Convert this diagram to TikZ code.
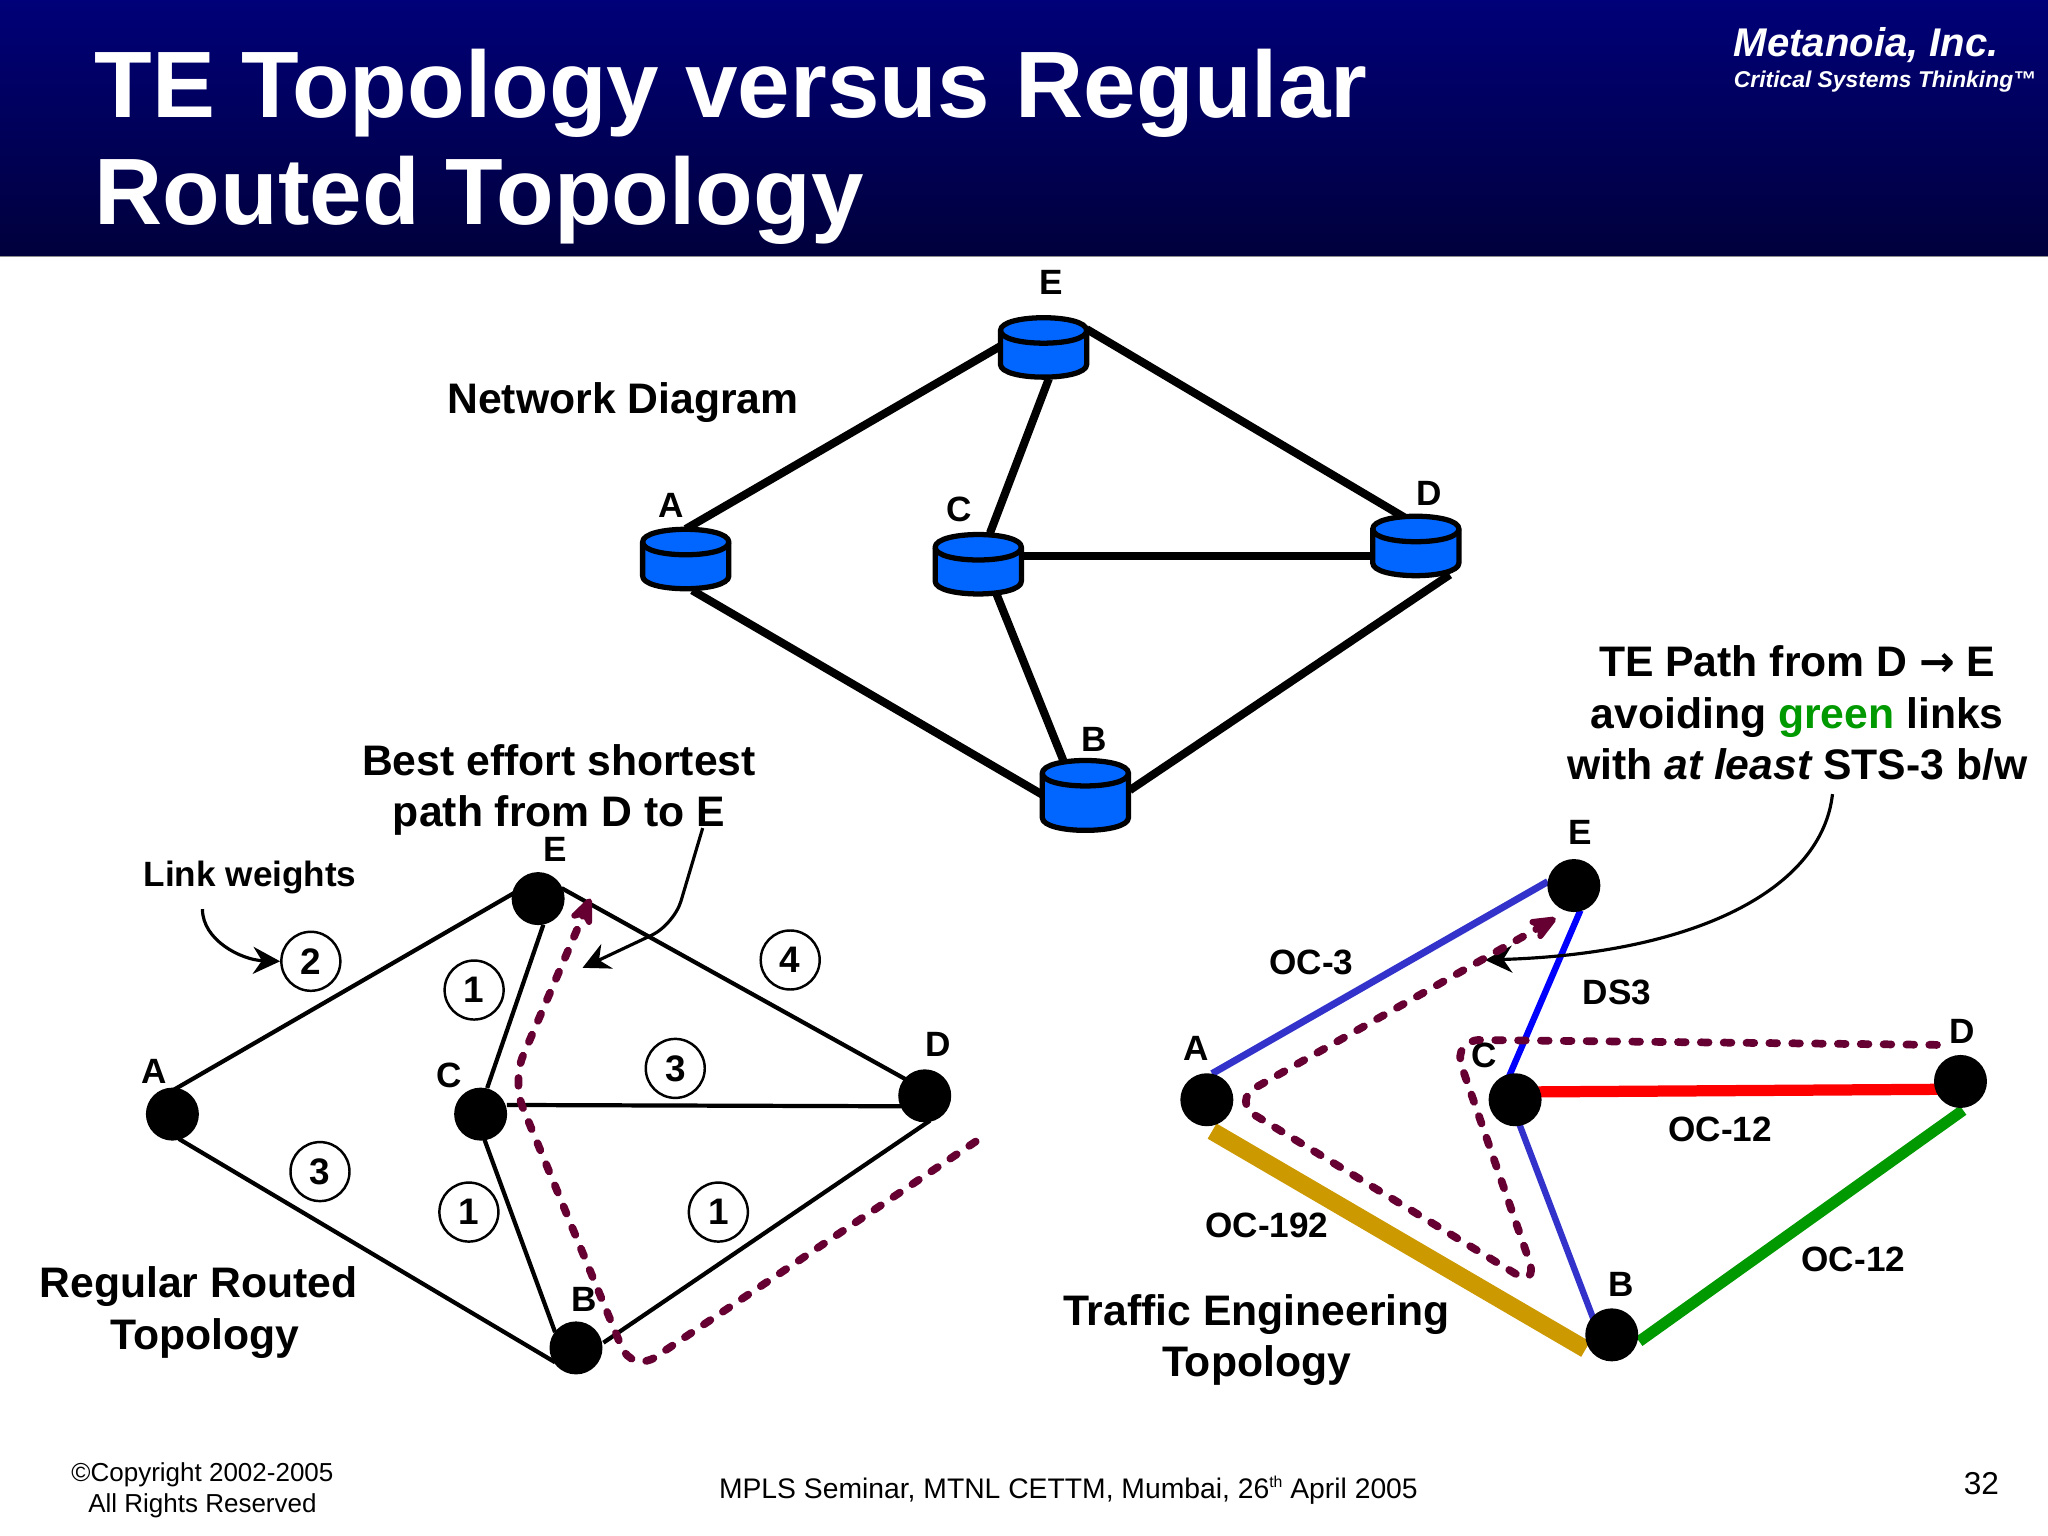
\documentclass[tikz,border=0pt]{standalone}
\usepackage{fontspec}
\setmainfont{Liberation Sans}
\newfontfamily\arrowfont{DejaVu Sans}
\usetikzlibrary{arrows.meta,backgrounds,calc}
\pgfdeclarelayer{base}
\pgfsetlayers{base,background,main}
\definecolor{hdtop}{RGB}{0,0,120}
\definecolor{hdbot}{RGB}{0,0,60}
\definecolor{routerblue}{RGB}{0,102,255}
\definecolor{pathmaroon}{RGB}{102,0,51}
\definecolor{linkindigo}{RGB}{51,51,204}
\definecolor{linkgold}{RGB}{204,153,0}
\definecolor{linkgreen}{RGB}{0,153,0}
\definecolor{teGreen}{RGB}{0,153,0}
\tikzset{
  routerbox/.style={shape=rectangle,minimum width=0.86cm,minimum height=0.62cm,inner sep=0pt,outer sep=0pt},
  routerline/.style={draw=black,line width=1.5pt,line join=round},
  dot/.style={shape=circle,fill=black,minimum size=0.53cm,inner sep=0pt,outer sep=0pt},
  weight/.style={shape=circle,draw=black,line width=0.7pt,minimum size=0.59cm,inner sep=0pt,
    font=\fontsize{10.5}{12}\selectfont\bfseries},
  lab/.style={font=\fontsize{10}{12}\selectfont\bfseries,inner sep=0pt},
  big/.style={font=\fontsize{12.15}{14.6}\selectfont\bfseries,align=center,inner sep=0pt},
  toplink/.style={line width=2.3pt,black},
  reglink/.style={line width=1.2pt,black},
  route/.style={line width=2.2pt,pathmaroon,dash pattern=on 2.2pt off 4.3pt,line cap=round,rounded corners=8pt,
    -{Stealth[length=0.36cm,width=0.3cm,round=false]}},
  callout/.style={line width=0.9pt,black,-{Stealth[length=0.27cm,width=0.27cm]}},
  foot/.style={font=\fontsize{7.4}{9}\selectfont,inner sep=0pt,align=center},
}
\newcommand{\routerdraw}[4]{%
  \node[routerbox] (#1) at (#2,#3) {};
  \begin{scope}[shift={(#2,#3)}]
    \path[routerline,fill=routerblue] (-33,-#4) -- (-33,#4) .. controls (-33,#4+13) and (33,#4+13) .. (33,#4) -- (33,-#4)
      .. controls (33,-#4-13) and (-33,-#4-13) .. (-33,-#4) -- cycle;
    \draw[routerline] (-33,-#4) .. controls (-33,-#4+13) and (33,-#4+13) .. (33,-#4);
  \end{scope}}
\begin{document}
\begin{tikzpicture}[x=0.013061cm,y=-0.013061cm]
\useasboundingbox (0,0) rectangle (1568,1176);
\begin{pgfonlayer}{base}
\fill[white] (0,0) rectangle (1568,1176);
\end{pgfonlayer}
\shade[top color=hdtop,bottom color=hdbot] (0,0) rectangle (1568,196);
\fill[black!45] (0,196) rectangle (1568,197);
\node[anchor=base west,inner sep=0pt,white,font=\fontsize{26.85}{27}\selectfont\bfseries] (t1) at (72,90) {TE Topology versus Regular};
\node[anchor=base west,inner sep=0pt,white,font=\fontsize{26.85}{27}\selectfont\bfseries] (t2) at (72,172) {Routed Topology};
\node[anchor=base west,inner sep=0pt,white,font=\fontsize{11.4}{11}\selectfont\bfseries\itshape] (m1) at (1327,43) {Metanoia, Inc.};
\node[anchor=base west,inner sep=0pt,white,font=\fontsize{6.5}{7}\selectfont\bfseries\itshape] (m2) at (1327,67) {Critical Systems Thinking™};

% network diagram
\routerdraw{E}{799}{266}{13}
\routerdraw{A}{525}{428}{13}
\routerdraw{C}{749}{432}{13}
\routerdraw{D}{1084}{418}{13}
\routerdraw{B}{831}{609}{17}
\begin{pgfonlayer}{background}
\draw[toplink] ([shift={(0,-23)}]A.center) -- ([shift={(-33,-1)}]E.center);
\draw[toplink] ([shift={(33,-14)}]E.center) -- ([shift={(-9,-22)}]D.center);
\draw[toplink] ([shift={(4,24)}]E.center) -- ([shift={(9,-24)}]C.center);
\draw[toplink] ([shift={(33,-6)}]C.center) -- ([shift={(-33,8)}]D.center);
\draw[toplink] ([shift={(14,23)}]C.center) -- ([shift={(-17,-27)}]B.center);
\draw[toplink] ([shift={(5,24)}]A.center) -- ([shift={(-32,0)}]B.center);
\draw[toplink] ([shift={(34,-4)}]B.center) -- ([shift={(26,22)}]D.center);
\end{pgfonlayer}
\node[lab] (lE) at (805,216) {E};
\node[lab] (lA) at (514,387) {A};
\node[lab] (lC) at (734,390) {C};
\node[lab] (lD) at (1094,378) {D};
\node[lab] (lB) at (838,566) {B};
\node[big] (nd) at (477,308) {Network Diagram};

% regular routed topology
\node[dot] (rE) at (412,688) {};
\node[dot] (rA) at (132,853) {};
\node[dot] (rC) at (368,853) {};
\node[dot] (rD) at (708,839) {};
\node[dot] (rB) at (441,1032) {};
\begin{pgfonlayer}{background}
\draw[reglink] ([shift={(0,-18)}]rA.center) -- ([shift={(-12,-8)}]rE.center);
\draw[reglink] ([shift={(18,-8)}]rE.center) -- ([shift={(-8,-9)}]rD.center);
\draw[reglink] ([shift={(4,20)}]rE.center) -- ([shift={(5,-20)}]rC.center);
\draw[reglink] ([shift={(20,-7)}]rC.center) -- ([shift={(-18,8)}]rD.center);
\draw[reglink] ([shift={(2,17)}]rC.center) -- ([shift={(-16,-12)}]rB.center);
\draw[reglink] ([shift={(5,19)}]rA.center) -- ([shift={(-16,11)}]rB.center);
\draw[reglink] ([shift={(21,-4)}]rB.center) -- ([shift={(4,19)}]rD.center);
\end{pgfonlayer}
\node[lab] (rlE) at (425,650) {E};
\node[lab] (rlA) at (118,820) {A};
\node[lab] (rlC) at (344,823) {C};
\node[lab] (rlD) at (718,800) {D};
\node[lab] (rlB) at (447,995) {B};
\node[weight] (w2) at (238,736) {2};
\node[weight] (w1a) at (363,758) {1};
\node[weight] (w4) at (605,735) {4};
\node[weight] (w3a) at (517,818) {3};
\node[weight] (w3b) at (245,897) {3};
\node[weight] (w1b) at (359,928) {1};
\node[weight] (w1c) at (550,928) {1};
\node[lab] (lw) at (191.5,672) {Link weights};
\node[big] (be) at (428,605) {Best effort shortest\\path from D to E};
\node[big] (rr) at (152,1005) {Regular Routed\\\hspace*{0.3em}Topology};
\coordinate (lwS) at (155,696);
\coordinate (beS) at (538,634);
\coordinate (beT) at (446,741);
\draw[callout] (lwS) .. controls (155,720) and (185,735) .. (w2.west);
\draw[callout,rounded corners=7pt] (beS) -- (516,708) -- (beT);
\coordinate (rp0) at (747,874);
\coordinate (rp1) at (452,688);
\draw[route] (rp0) -- (484,1051) -- (392,828) -- (rp1);

% traffic engineering topology
\node[dot] (tE) at (1205,678) {};
\node[dot] (tA) at (924,842) {};
\node[dot] (tC) at (1160,842) {};
\node[dot] (tD) at (1501,828) {};
\node[dot] (tB) at (1234,1022) {};
\begin{pgfonlayer}{background}
\draw[linkindigo,line width=2pt] ([shift={(4,-20)}]tA.center) -- ([shift={(-20,-3)}]tE.center);
\draw[blue,line width=1.8pt] ([shift={(5,19)}]tE.center) -- ([shift={(-5,-17)}]tC.center);
\draw[linkindigo,line width=1.8pt] ([shift={(3,18)}]tC.center) -- ([shift={(-14,-12)}]tB.center);
\draw[red,line width=3.2pt] ([shift={(15,-6)}]tC.center) -- ([shift={(-15,6)}]tD.center);
\draw[linkgreen,line width=3.2pt] ([shift={(2,22)}]tD.center) -- ([shift={(21,5)}]tB.center);
\draw[linkgold,line width=5pt] ([shift={(4,24)}]tA.center) -- ([shift={(-20,11)}]tB.center);
\end{pgfonlayer}
\node[lab] (tlE) at (1210,637) {E};
\node[lab] (tlA) at (916,803) {A};
\node[lab] (tlC) at (1136,808) {C};
\node[lab] (tlD) at (1502,790) {D};
\node[lab] (tlB) at (1241,983) {B};
\node[lab] (oc3) at (1004,737) {OC-3};
\node[lab] (ds3) at (1238,760) {DS3};
\node[lab] (oc12a) at (1317,865) {OC-12};
\node[lab] (oc192) at (970,938) {OC-192};
\node[lab] (oc12b) at (1419,964) {OC-12};
\node[big] (te) at (962,1026) {Traffic Engineering\\Topology};
\node[big] (tp) at (1376,546) {TE Path from D {\arrowfont →} E\\avoiding {\color{teGreen}green} links\\with {\itshape at least} STS-3 b/w};
\coordinate (tpS) at (1403,608);
\coordinate (tpT) at (1137,735);
\draw[callout] (tpS) .. controls (1395,680) and (1300,730) .. (tpT);
\coordinate (tp0) at (1483,800);
\coordinate (tp1) at (1191,703);
\draw[route] (tp0) -- (1112,796) -- (1178,986) -- (943,843) -- (tp1);

% footer
\node[foot] (f1) at (155,1141) {©Copyright 2002-2005\\All Rights Reserved};
\node[foot,font=\fontsize{8.05}{9}\selectfont] (f2) at (818,1141) {MPLS Seminar, MTNL CETTM, Mumbai, 26{\raisebox{0.4em}{\fontsize{4.5}{5}\selectfont th}} April 2005};
\node[foot,font=\fontsize{9}{10}\selectfont] (f3) at (1517,1136) {32};
\end{tikzpicture}
\end{document}
